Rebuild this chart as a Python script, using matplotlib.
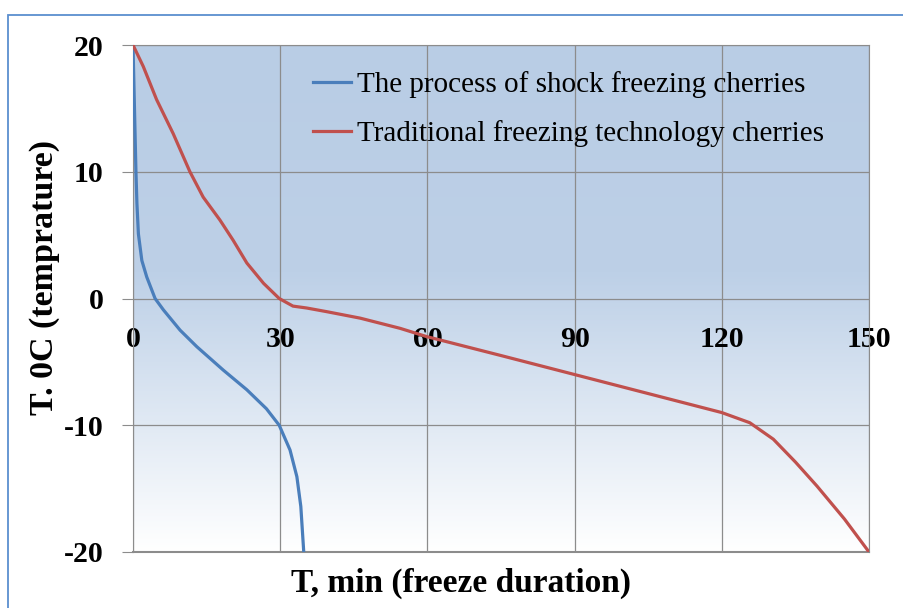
import numpy as np
import matplotlib

matplotlib.use("Agg")
import matplotlib.pyplot as plt
from matplotlib.colors import LinearSegmentedColormap
from matplotlib.patches import Rectangle

# shock freezing curve (minutes, deg C)
shock_t = [0, 0.3, 0.6, 0.8, 1.1, 1.8, 2.8, 4.5, 6.2, 9.6, 13.0, 18.4, 23.2,
           27.2, 29.8, 32.0, 33.4, 34.2, 34.8]
shock_T = [20, 15, 10, 7.5, 5.1, 3.0, 1.7, 0.0, -0.9, -2.5, -3.8, -5.65, -7.2,
           -8.7, -10.0, -11.95, -14.06, -16.4, -20.0]

# traditional freezing curve
trad_t = [0, 2.1, 4.8, 8.2, 11.6, 14.3, 17.7, 20.4, 23.2, 26.6, 29.8, 32.6,
          35.4, 39.5, 46.3, 54.4, 59.8, 75, 90, 105, 120, 125.7, 130.5, 135,
          139.4, 145, 150]
trad_T = [20, 18.3, 15.7, 13.0, 10.0, 8.0, 6.2, 4.6, 2.8, 1.2, 0.0, -0.6,
          -0.75, -1.04, -1.55, -2.35, -3.0, -4.5, -6.0, -7.5, -9.0, -9.8,
          -11.1, -12.9, -14.8, -17.4, -20.0]

labels = ["The process of shock freezing cherries",
          "Traditional freezing technology cherries"]
x_ticks = [0, 30, 60, 90, 120, 150]
y_ticks = [-20, -10, 0, 10, 20]

SERIF = "Liberation Serif"
GRID = "#8c8c8c"
plt.rcParams["axes.unicode_minus"] = False

fig = plt.figure(figsize=(9.04, 6.08), dpi=100)
ax = fig.add_axes([133 / 904, 56 / 608, 736 / 904, 507 / 608])

# outer chart border
fig.patches.append(Rectangle((8 / 904, -0.1), 1.2, (608 - 15) / 608 + 0.1,
                             transform=fig.transFigure, fill=False,
                             edgecolor="#5b8fcf", linewidth=1.3))

# plot area gradient (blue on top, fading to white)
cmap = LinearSegmentedColormap.from_list(
    "bg", [(0.0, "#b9cde5"), (0.45, "#bdd0e7"), (1.0, "#ffffff")])
grad = np.linspace(0, 1, 256).reshape(-1, 1)
ax.imshow(grad, cmap=cmap, aspect="auto", extent=(0, 150, -20, 20),
          origin="upper", zorder=0, interpolation="bicubic")

ax.plot(shock_t, shock_T, color="#4a7ebb", lw=2.3, label=labels[0], zorder=3)
ax.plot(trad_t, trad_T, color="#c0504d", lw=2.3, label=labels[1], zorder=3)

ax.set_xlim(0, 150)
ax.set_ylim(-20, 20)
ax.set_xticks(x_ticks)
ax.set_yticks(y_ticks)
ax.grid(True, color=GRID, lw=0.9, zorder=1)

for s in ("top", "right", "left"):
    ax.spines[s].set_color(GRID)
ax.spines["bottom"].set_position(("data", 0))
ax.spines["bottom"].set_visible(False)
ax.axhline(-20, color=GRID, lw=1.5, zorder=2, clip_on=False)

ax.tick_params(axis="y", length=8, color=GRID, pad=13)
ax.tick_params(axis="x", length=0, pad=20)
for lab in ax.get_xticklabels() + ax.get_yticklabels():
    lab.set_fontfamily(SERIF)
    lab.set_fontweight("bold")
    lab.set_fontsize(21.5)

fig.text(461 / 904, 1 - 583 / 608, "T, min (freeze duration)", ha="center",
         va="center", fontsize=24, fontweight="bold", family=SERIF)
fig.text(45 / 904, 1 - 277 / 608, "T. 0C (temprature)", ha="center",
         va="center", rotation=90, fontsize=24.5, fontweight="bold", family=SERIF)

ax.legend(loc="upper left", bbox_to_anchor=(0.2446, 0.948), frameon=False,
          prop={"family": SERIF, "size": 21}, handlelength=1.3,
          handletextpad=0.2, labelspacing=0.75, borderpad=0, borderaxespad=0)

fig.savefig("out.png", dpi=100)
